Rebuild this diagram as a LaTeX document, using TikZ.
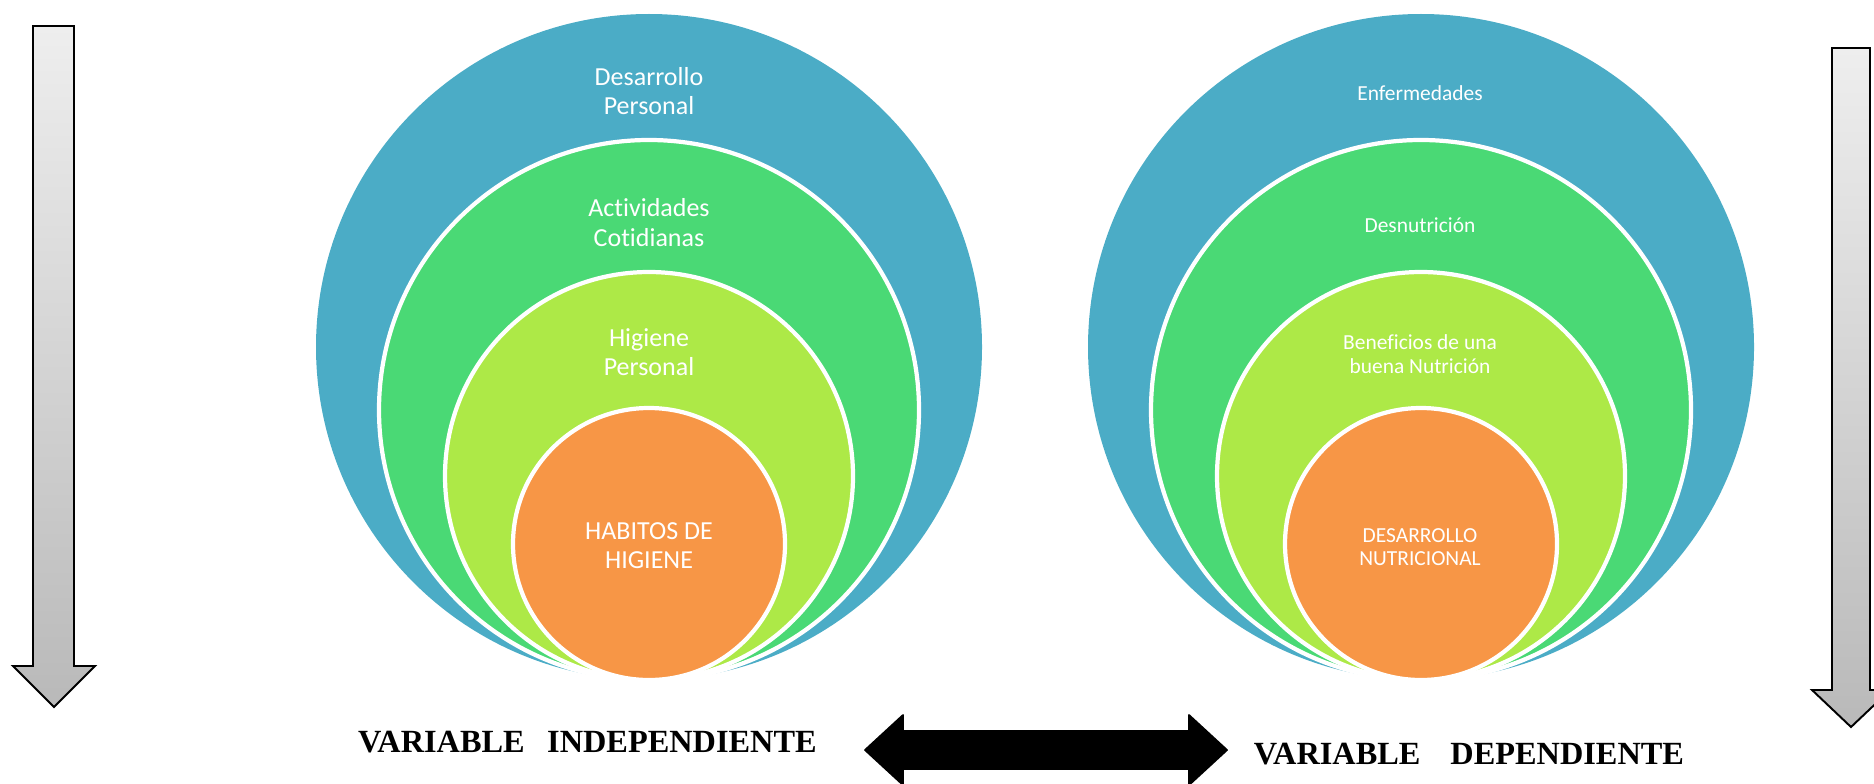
\documentclass[tikz,border=0pt]{standalone}
\usepackage{xcolor}
\usepackage{fontspec}
\usepackage{tkz-euclide}
\setmainfont{Liberation Serif}
\newfontfamily\calibri[Ligatures={NoCommon,NoContextual}]{Carlito}

\definecolor{azul}{HTML}{4BACC6}
\definecolor{verde}{HTML}{4AD975}
\definecolor{limon}{HTML}{ADE947}
\definecolor{naranja}{HTML}{F79646}
\definecolor{grisclaro}{HTML}{EEEEEE}
\definecolor{grisoscuro}{HTML}{B9B9B9}

\tikzset{
  borde/.style={color=white, line width=2.4pt},
  rotulo/.style={text=white, align=center, inner sep=0pt,
    font={\calibri\fontsize{14.8pt}{16.8pt}\selectfont}},
  rotulochico/.style={text=white, align=center, inner sep=0pt,
    font={\calibri\fontsize{12.2pt}{13.3pt}\selectfont}},
  leyenda/.style={inner sep=0pt, font={\bfseries\fontsize{18.4pt}{20pt}\selectfont}}
}

\begin{document}
\begin{tikzpicture}
        \useasboundingbox (0,0) rectangle (37.48,15.66);

        % Paso 1: Define el punto de apoyo (abajo) y los centros de cada circulo
        \tkzDefPoint(12.98,2.06){T1} % apoyo izquierdo
        \tkzDefPoint(28.42,2.06){T2} % apoyo derecho
        \foreach \k/\x in {1/12.98,2/28.42}{
          \tkzDefPoint(\x,8.72){A\k} % azul
          \tkzDefPoint(\x,7.46){B\k} % verde
          \tkzDefPoint(\x,6.14){C\k} % limon
          \tkzDefPoint(\x,4.78){D\k} % naranja
        }

        % Paso 2: Rellena los circulos, todos pasan por el punto de apoyo
        \foreach \k in {1,2}{
          \tkzFillCircle[fill=azul](A\k,T\k)
          \tkzFillCircle[fill=verde](B\k,T\k)
          \tkzDrawCircle[borde](B\k,T\k)
          \tkzFillCircle[fill=limon](C\k,T\k)
          \tkzDrawCircle[borde](C\k,T\k)
          \tkzFillCircle[fill=naranja](D\k,T\k)
          \tkzDrawCircle[borde](D\k,T\k)
        }

        % Paso 3: Textos de la variable independiente
        \node[rotulo] (desarrollo) at (12.98,13.84) {Desarrollo\\Personal};
        \node[rotulo] (actividades) at (12.98,11.21) {Actividades\\Cotidianas};
        \node[rotulo] (higiene) at (12.98,8.62) {Higiene\\Personal};
        \node[rotulo] (habitos) at (12.98,4.75) {HABITOS DE\\HIGIENE};

        % Paso 4: Textos de la variable dependiente
        \node[rotulochico] (enfermedades) at (28.40,13.80) {Enfermedades};
        \node[rotulochico] (desnutricion) at (28.40,11.16) {Desnutrición};
        \node[rotulochico] (beneficios) at (28.40,8.58) {Beneficios de una\\buena Nutrición};
        \node[rotulochico] (nutricional) at (28.40,4.72) {DESARROLLO\\NUTRICIONAL};

        % Paso 5: Flechas verticales grises (izquierda y derecha)
        \tkzDefPoint(0.66,15.14){I1}
        \tkzDefPoint(1.48,15.14){I2}
        \tkzDefPoint(1.48,2.34){I3}
        \tkzDefPoint(1.90,2.34){I4}
        \tkzDefPoint(1.08,1.52){I5}
        \tkzDefPoint(0.26,2.34){I6}
        \tkzDefPoint(0.66,2.34){I7}
        \tkzDefPoint(36.64,14.70){R1}
        \tkzDefPoint(37.40,14.70){R2}
        \tkzDefPoint(37.40,1.86){R3}
        \tkzDefPoint(37.80,1.86){R4}
        \tkzDefPoint(37.02,1.12){R5}
        \tkzDefPoint(36.24,1.86){R6}
        \tkzDefPoint(36.64,1.86){R7}
        \foreach \f in {I,R}{
          \tkzFillPolygon[top color=grisclaro, bottom color=grisoscuro](\f1,\f2,\f3,\f4,\f5,\f6,\f7)
          \tkzDrawPolygon[black, line width=1.1pt, line join=miter](\f1,\f2,\f3,\f4,\f5,\f6,\f7)
        }

        % Paso 6: Flecha doble negra entre las dos variables
        \tkzDefPoint(17.30,0.66){P1}
        \tkzDefPoint(18.06,1.36){P2}
        \tkzDefPoint(18.06,1.04){P3}
        \tkzDefPoint(23.78,1.04){P4}
        \tkzDefPoint(23.78,1.36){P5}
        \tkzDefPoint(24.54,0.66){P6}
        \tkzDefPoint(23.78,-0.04){P7}
        \tkzDefPoint(23.78,0.28){P8}
        \tkzDefPoint(18.06,0.28){P9}
        \tkzDefPoint(18.06,-0.04){P10}
        \tkzFillPolygon[fill=black, draw=black, line width=1pt, line join=round](P1,P2,P3,P4,P5,P6,P7,P8,P9,P10)

        % Paso 7: Leyendas de abajo
        \node[leyenda] (independiente) at (11.75,0.82) {VARIABLE\hspace{0.45cm}INDEPENDIENTE};
        \node[leyenda] (dependiente) at (29.38,0.58) {VARIABLE\hspace{0.6cm}DEPENDIENTE};
    \end{tikzpicture}
\end{document}
